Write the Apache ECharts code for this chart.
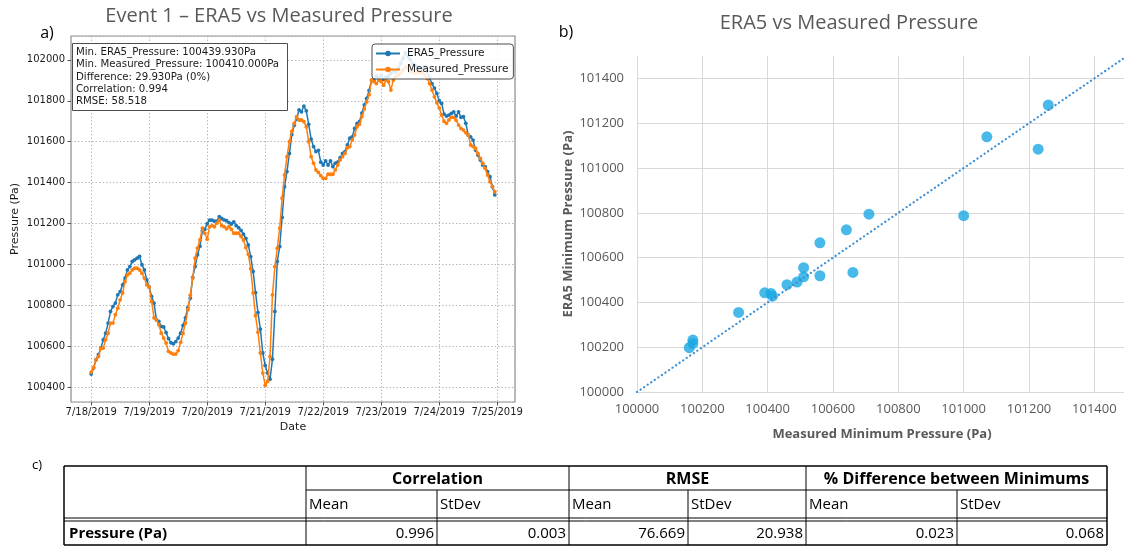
<!DOCTYPE html>
<html>
<head>
<meta charset="utf-8">
<title>ERA5 vs Measured Pressure</title>
<script src="https://cdn.jsdelivr.net/npm/echarts@6/dist/echarts.min.js"></script>
<style>
  html, body { margin: 0; padding: 0; background: #ffffff; }
  #main { width: 1124px; height: 546px; }
</style>
</head>
<body>
<div id="main"></div>
<script>
// ---- Event 1: hourly pressure, starting 7/18/2019 00:00 (Pa) ----
const seriesStart = [2019, 6, 18];   // year, month index, day
const seriesNames = ['ERA5_Pressure', 'Measured_Pressure'];

const era5Pressure = [
  100465, 100495, 100535, 100560, 100592, 100633, 100665, 100714, 100771, 100795,
  100812, 100852, 100868, 100901, 100934, 100974, 100990, 101015, 101023, 101031,
  101040, 100999, 100974, 100925, 100890, 100844, 100812, 100730, 100722, 100698,
  100695, 100668, 100638, 100618, 100613, 100624, 100641, 100665, 100703, 100740,
  100790, 100836, 100937, 100990, 101048, 101090, 101165, 101172, 101200, 101217,
  101217, 101212, 101212, 101234, 101225, 101218, 101214, 101205, 101198, 101208,
  101190, 101180, 101167, 101148, 101128, 101096, 101039, 100966, 100863, 100766,
  100685, 100568, 100507, 100470, 100440, 100538, 100771, 101015, 101088, 101230,
  101380, 101454, 101543, 101635, 101680, 101712, 101755, 101746, 101774, 101751,
  101685, 101613, 101576, 101552, 101558, 101500, 101486, 101506, 101486, 101506,
  101478, 101495, 101500, 101522, 101543, 101552, 101584, 101617, 101624, 101665,
  101690, 101698, 101740, 101780, 101812, 101850, 101901, 101901, 101920, 101909,
  101925, 101904, 101917, 101920, 101934, 101950, 101941, 101958, 101982, 102007,
  102035, 102015, 102002, 101982, 101974, 101966, 101958, 101958, 101966, 101945,
  101910, 101884, 101862, 101836, 101800, 101787, 101735, 101725, 101730, 101738,
  101746, 101725, 101746, 101719, 101722, 101690, 101633, 101624, 101608, 101559,
  101535, 101511, 101486, 101478, 101454, 101429, 101380, 101340
];

const measuredPressure = [
  100475, 100497, 100535, 100551, 100590, 100592, 100633, 100665, 100714, 100714,
  100755, 100787, 100828, 100861, 100917, 100950, 100958, 100974, 100982, 100982,
  100974, 100958, 100934, 100901, 100890, 100820, 100740, 100730, 100706, 100665,
  100641, 100617, 100576, 100568, 100563, 100563, 100580, 100620, 100665, 100714,
  100779, 100850, 100934, 101031, 101080, 101120, 101178, 101153, 101124, 101185,
  101190, 101185, 101202, 101217, 101190, 101185, 101175, 101185, 101172, 101153,
  101153, 101153, 101137, 101120, 101083, 101050, 100980, 100861, 100750, 100670,
  100568, 100470, 100410, 100429, 100551, 100852, 100990, 101080, 101178, 101324,
  101438, 101527, 101600, 101650, 101690, 101722, 101706, 101706, 101698, 101673,
  101600, 101527, 101495, 101462, 101450, 101434, 101421, 101421, 101441, 101441,
  101441, 101462, 101486, 101511, 101527, 101543, 101571, 101576, 101608, 101633,
  101673, 101685, 101722, 101760, 101795, 101830, 101901, 101893, 101884, 101901,
  101893, 101876, 101901, 101893, 101852, 101901, 101917, 101925, 101934, 101950,
  101965, 101958, 101941, 101945, 101934, 101938, 101938, 101938, 101925, 101909,
  101884, 101852, 101819, 101790, 101765, 101730, 101700, 101690, 101706, 101719,
  101719, 101705, 101681, 101665, 101657, 101644, 101633, 101584, 101576, 101568,
  101543, 101519, 101495, 101470, 101438, 101405, 101380, 101356
];

const statLines = [
  'Min. ERA5_Pressure: 100439.930Pa',
  'Min. Measured_Pressure: 100410.000Pa',
  'Difference: 29.930Pa (0%)',
  'Correlation: 0.994',
  'RMSE: 58.518'
];

// ---- Minimum pressure per event (Pa) ----
const measuredMinimum = [
  101259, 101071, 101228, 100710, 101000, 100641, 100560, 100510, 100661, 100560,
  100510, 100490, 100459, 100391, 100410, 100415, 100311, 100171, 100171, 100160
];
const era5Minimum = [
  101281, 101139, 101084, 100794, 100787, 100724, 100666, 100555, 100534, 100519,
  100514, 100491, 100479, 100443, 100440, 100428, 100355, 100232, 100217, 100198
];
const oneToOneLine = [100000, 101500];
const scatterAxisTicks = [100000, 101500, 200];   // min, max, step

// ---- Summary table ----
const tableGroups = ['Correlation', 'RMSE', '% Difference between Minimums'];
const tableSubHeaders = ['Mean', 'StDev'];
const tableRowLabel = 'Pressure (Pa)';
const tableValues = [0.996, 0.003, 76.669, 20.938, 0.023, 0.068];

// ---------------------------------------------------------------
const HOUR = 3600 * 1000;
const DAY = 24 * HOUR;
const t0 = new Date(seriesStart[0], seriesStart[1], seriesStart[2], 0, 0, 0).getTime();
const toPairs = arr => arr.map((v, i) => [t0 + i * HOUR, v]);

// matplotlib-style 5% data margins
const allVals = era5Pressure.concat(measuredPressure);
const yLo = Math.min(...allVals), yHi = Math.max(...allVals);
const yPad = (yHi - yLo) * 0.05;
const xPad = (era5Pressure.length - 1) * HOUR * 0.05;

const MPL = 'DejaVu Sans';
const OFF = '"Open Sans"';
const C0 = '#1f77b4', C1 = '#ff7f0e';
const plain = v => String(Math.round(v));

function dateLabel(v) {
  const d = new Date(v);
  return (d.getMonth() + 1) + '/' + d.getDate() + '/' + d.getFullYear();
}

// table geometry
const T = { left: 64, right: 1107, top: 466, mid: 490, dbl1: 518, dbl2: 521, bottom: 545,
            colX: [306, 569, 806], subX: [437, 688, 957] };

const graphics = [];
function hLine(x1, x2, y, w) {
  graphics.push({ type: 'line', silent: true, shape: { x1, y1: y, x2, y2: y }, style: { stroke: '#000', lineWidth: w || 1 } });
}
function vLine(x, y1, y2, w) {
  graphics.push({ type: 'line', silent: true, shape: { x1: x, y1, x2: x, y2 }, style: { stroke: '#000', lineWidth: w || 1 } });
}
function txt(x, y, text, font, align, color) {
  graphics.push({ type: 'text', silent: true, x, y,
    style: { text, font, fill: color || '#000', align: align || 'left', verticalAlign: 'middle' } });
}

// panel letters and titles
txt(47, 33, 'a)', '16px ' + OFF, 'center', '#000');
txt(566, 32, 'b)', '16px ' + OFF, 'center', '#000');
txt(37, 465, 'c)', '13px ' + OFF, 'center', '#000');
txt(279, 16, 'Event 1 – ERA5 vs Measured Pressure', '20px ' + OFF, 'center', '#595959');
txt(849, 23, 'ERA5 vs Measured Pressure', '20px ' + OFF, 'center', '#595959');

// statistics box inside panel a
graphics.push({ type: 'rect', silent: true, z: 10,
  shape: { x: 72.5, y: 43.5, width: 215, height: 67 },
  style: { fill: '#ffffff', stroke: '#4d4d4d', lineWidth: 1 } });
graphics.push({ type: 'text', silent: true, z: 11, x: 76, y: 46.5,
  style: { text: statLines.join('\n'), font: '10.2px "' + MPL + '"', lineHeight: 12.2, fill: '#1a1a1a', verticalAlign: 'top' } });

// summary table
hLine(T.left, T.right, T.top, 1.5);
hLine(T.colX[0], T.right, T.mid, 1);
hLine(T.left, T.right, T.dbl1, 1);
hLine(T.left, T.right, T.dbl2, 1);
hLine(T.left, T.right, T.bottom, 1.5);
vLine(T.left, T.top, T.bottom, 1.5);
vLine(T.right, T.top, T.bottom, 1.5);
T.colX.forEach(x => vLine(x, T.top, T.bottom, 1));
T.subX.forEach(x => vLine(x, T.mid, T.bottom, 1));

const groupEdges = T.colX.concat([T.right]);
tableGroups.forEach((g, k) => {
  txt((groupEdges[k] + groupEdges[k + 1]) / 2, (T.top + T.mid) / 2 + 1, g, 'bold 16px ' + OFF, 'center');
});
const cellLefts = [];
T.colX.forEach((x, k) => { cellLefts.push(x, T.subX[k]); });
const cellRights = [];
T.subX.forEach((x, k) => { cellRights.push(x, groupEdges[k + 1]); });
cellLefts.forEach((x, k) => {
  txt(x + 3, (T.mid + T.dbl1) / 2 + 1, tableSubHeaders[k % 2], '15px ' + OFF, 'left');
});
txt(T.left + 5, (T.dbl2 + T.bottom) / 2 + 1, tableRowLabel, 'bold 15px ' + OFF, 'left');
tableValues.forEach((v, k) => {
  txt(cellRights[k] - 3, (T.dbl2 + T.bottom) / 2 + 1, v.toFixed(3), '15px ' + OFF, 'right');
});

const chart = echarts.init(document.getElementById('main'), null, { renderer: 'canvas', devicePixelRatio: 1 });

const option = {
  animation: false,
  backgroundColor: '#ffffff',
  grid: [
    { left: 71, top: 36, width: 444, height: 366, show: true, borderColor: '#8f8f8f', borderWidth: 1.2,
      backgroundColor: '#ffffff', containLabel: false, outerBoundsMode: 'none' },
    { left: 637, top: 56, width: 490, height: 336, show: false, containLabel: false, outerBoundsMode: 'none' }
  ],
  legend: {
    data: seriesNames,
    orient: 'vertical',
    left: 372, top: 44,
    itemWidth: 24, itemHeight: 7, itemGap: 5,
    padding: [4, 5, 4, 3],
    backgroundColor: 'rgba(255,255,255,0.85)',
    borderColor: '#4d4d4d', borderWidth: 1, borderRadius: 3,
    textStyle: { fontFamily: MPL, fontSize: 10.5, color: '#1a1a1a', padding: [0, 0, 0, 2] },
    z: 20
  },
  xAxis: [
    {
      type: 'time', gridIndex: 0,
      min: t0 - xPad, max: t0 + (era5Pressure.length - 1) * HOUR + xPad,
      minInterval: DAY, maxInterval: DAY,
      name: 'Date', nameLocation: 'middle', nameGap: 17,
      nameTextStyle: { fontFamily: MPL, fontSize: 11, color: '#1a1a1a' },
      axisLine: { show: false },
      axisTick: { show: true, length: 3.5, lineStyle: { color: '#555' } },
      axisLabel: { formatter: dateLabel, fontFamily: MPL, fontSize: 10, color: '#1a1a1a', margin: 5, hideOverlap: false },
      splitLine: { show: true, lineStyle: { color: '#b0b0b0', type: [1.5, 2], width: 0.9 } }
    },
    {
      type: 'value', gridIndex: 1,
      min: scatterAxisTicks[0], max: scatterAxisTicks[1], interval: scatterAxisTicks[2],
      name: 'Measured Minimum Pressure (Pa)', nameLocation: 'middle', nameGap: 36,
      nameTextStyle: { fontFamily: OFF, fontSize: 13, fontWeight: 'bold', color: '#595959' },
      axisLine: { show: false }, axisTick: { show: false },
      axisLabel: { formatter: plain, fontFamily: OFF, fontSize: 13, color: '#595959', margin: 11, showMaxLabel: false },
      splitLine: { show: true, showMaxLine: false, lineStyle: { color: '#d9d9d9', width: 1 } }
    }
  ],
  yAxis: [
    {
      type: 'value', gridIndex: 0,
      min: yLo - yPad, max: yHi + yPad, splitNumber: 9,
      name: 'Pressure (Pa)', nameLocation: 'middle', nameGap: 50,
      nameTextStyle: { fontFamily: MPL, fontSize: 11, color: '#1a1a1a' },
      axisLine: { show: false },
      axisTick: { show: true, length: 3.5, lineStyle: { color: '#555' } },
      axisLabel: { formatter: plain, fontFamily: MPL, fontSize: 10, color: '#1a1a1a', margin: 6, showMinLabel: false, showMaxLabel: false },
      splitLine: { show: true, lineStyle: { color: '#b0b0b0', type: [1.5, 2], width: 0.9 } }
    },
    {
      type: 'value', gridIndex: 1,
      min: scatterAxisTicks[0], max: scatterAxisTicks[1], interval: scatterAxisTicks[2],
      name: 'ERA5 Minimum Pressure (Pa)', nameLocation: 'middle', nameGap: 62,
      nameTextStyle: { fontFamily: OFF, fontSize: 13, fontWeight: 'bold', color: '#595959' },
      axisLine: { show: false }, axisTick: { show: false },
      axisLabel: { formatter: plain, fontFamily: OFF, fontSize: 13, color: '#595959', margin: 13, showMaxLabel: false },
      splitLine: { show: true, showMaxLine: false, lineStyle: { color: '#d9d9d9', width: 1 } }
    }
  ],
  series: [
    {
      name: seriesNames[0], type: 'line', xAxisIndex: 0, yAxisIndex: 0,
      data: toPairs(era5Pressure),
      symbol: 'circle', symbolSize: 3.8, showSymbol: true, silent: true,
      lineStyle: { color: C0, width: 1.5 }, itemStyle: { color: C0 },
      emphasis: { disabled: true }, z: 3
    },
    {
      name: seriesNames[1], type: 'line', xAxisIndex: 0, yAxisIndex: 0,
      data: toPairs(measuredPressure),
      symbol: 'circle', symbolSize: 3.8, showSymbol: true, silent: true,
      lineStyle: { color: C1, width: 1.5 }, itemStyle: { color: C1 },
      emphasis: { disabled: true }, z: 4
    },
    {
      name: 'Events', type: 'scatter', xAxisIndex: 1, yAxisIndex: 1,
      data: measuredMinimum.map((m, i) => [m, era5Minimum[i]]),
      symbol: 'circle', symbolSize: 11, silent: true,
      itemStyle: { color: '#1aa8e2' }, emphasis: { disabled: true }, z: 3
    },
    {
      name: '1:1', type: 'line', xAxisIndex: 1, yAxisIndex: 1,
      data: oneToOneLine.map(v => [v, v]),
      symbol: 'none', silent: true,
      lineStyle: { color: '#3b8fd5', width: 2.2, type: [0.1, 4.2], cap: 'round' },
      emphasis: { disabled: true }, z: 4
    }
  ],
  graphic: graphics
};

chart.setOption(option);
</script>
</body>
</html>
